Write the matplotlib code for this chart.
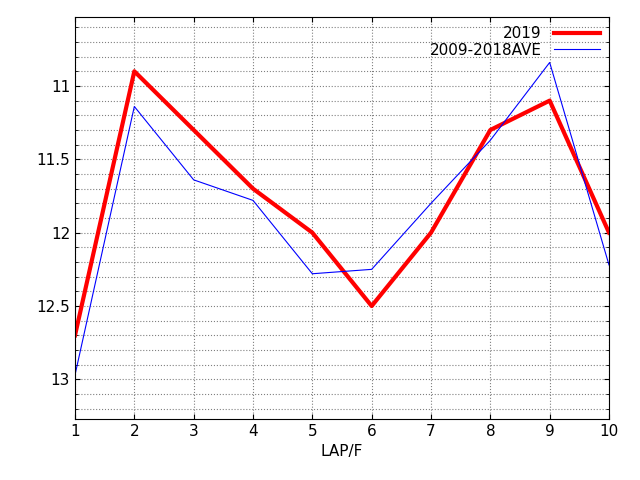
import matplotlib
matplotlib.use("Agg")
import matplotlib.pyplot as plt
import numpy as np

laps = [1, 2, 3, 4, 5, 6, 7, 8, 9, 10]
s2019 = [12.7, 10.9, 11.3, 11.7, 12.0, 12.5, 12.0, 11.3, 11.1, 12.0]
save = [12.97, 11.14, 11.64, 11.78, 12.28, 12.25, 11.8, 11.37, 10.84, 12.22]

fig = plt.figure(figsize=(6.4, 4.8), dpi=100)
ax = fig.add_axes([75/640, 61/480, 534/640, 402/480])
ax.plot(laps, s2019, color="red", lw=3, label="2019")
ax.plot(laps, save, color="blue", lw=0.8, label="2009-2018AVE")
ax.set_xlim(1, 10)
ax.set_ylim(13.27, 10.53)
ax.set_xticks(laps)
ax.set_yticks([11, 11.5, 12, 12.5, 13])
ax.set_yticklabels(["11", "11.5", "12", "12.5", "13"])
ax.set_yticks(np.arange(10.6, 13.25, 0.1), minor=True)
ax.grid(True, which="major", color="gray", ls=":", lw=0.8)
ax.grid(True, which="minor", axis="y", color="gray", ls=":", lw=0.8)
ax.tick_params(which="both", direction="in", top=True, right=True, labelsize=11)
ax.set_xlabel("LAP/F", fontsize=11)
ax.legend(loc="upper right", frameon=False, markerfirst=False, fontsize=11,
          handlelength=3, borderaxespad=0.2, labelspacing=0.1)
fig.savefig("out.png")
